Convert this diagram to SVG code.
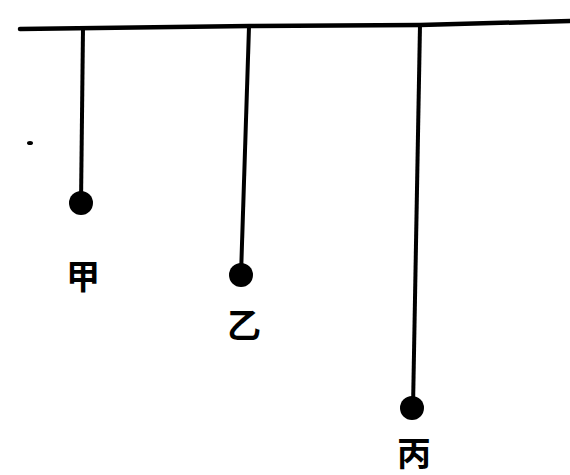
<svg xmlns="http://www.w3.org/2000/svg" width="570" height="475" viewBox="0 0 570 475">
<style>
.ln{stroke:#000;stroke-width:4.5;stroke-linecap:round;fill:none}
.str{stroke:#000;stroke-width:4;fill:none}
.ball{fill:#000}
.lbl{font-family:"Noto Sans CJK SC","Noto Sans CJK JP",sans-serif;font-weight:bold;font-size:34px;fill:#000;text-anchor:middle}
</style>
<rect width="570" height="475" fill="#fff"/>
<path class="ln" d="M20 29 L250 26 L420 25 L570 21"/>
<ellipse cx="30" cy="143" rx="3" ry="2" fill="#000"/>
<g id="connectors">
<line class="str" x1="83" y1="28" x2="81" y2="203"/>
<line class="str" x1="249" y1="27" x2="241" y2="275"/>
<line class="str" x1="420" y1="25" x2="413" y2="408"/>
</g>
<g id="jia">
<circle class="ball" cx="81" cy="203" r="12"/>
<text class="lbl" x="83" y="289" font-size="30">甲</text>
</g>
<g id="yi">
<circle class="ball" cx="241" cy="275" r="12"/>
<text class="lbl" x="244" y="338">乙</text>
</g>
<g id="bing">
<circle class="ball" cx="412" cy="408" r="12"/>
<text class="lbl" x="414" y="466" font-size="36">丙</text>
</g>
</svg>
